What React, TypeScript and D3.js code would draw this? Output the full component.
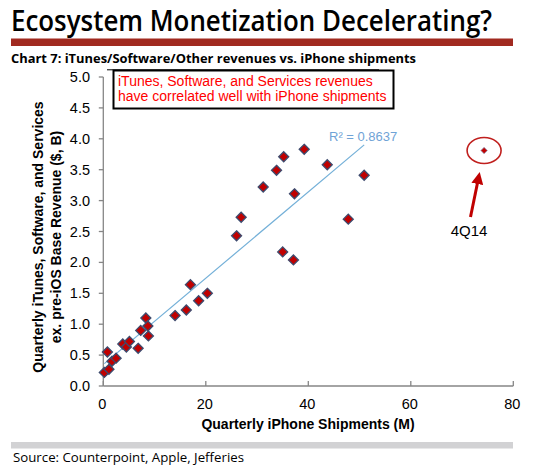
import React from "react";
import * as d3 from "d3";

const shipments = [0.2, 1.1, 0.8, 1.7, 2.5, 3.8, 4.5, 5.1, 6.8, 7.3, 8.3, 8.7, 8.8, 14.0, 16.2, 17.0, 18.6, 20.3, 26.0, 26.9, 31.2, 33.8, 35.2, 35.0, 37.1, 37.3, 39.2, 43.7, 47.8, 50.9];
const revenues = [0.22, 0.27, 0.55, 0.40, 0.45, 0.68, 0.63, 0.72, 0.61, 0.90, 1.10, 0.97, 0.81, 1.14, 1.23, 1.64, 1.38, 1.50, 2.43, 2.73, 3.22, 3.49, 3.71, 2.17, 2.04, 3.11, 3.83, 3.58, 2.70, 3.41];
const highlightShipments = [74.3];
const highlightRevenues = [3.81];
const highlightLabel = "4Q14";
const xTicks = [0, 20, 40, 60, 80];
const yTicks = [0, 0.5, 1, 1.5, 2, 2.5, 3, 3.5, 4, 4.5, 5];
const rSquaredLabel = "R² = 0.8637";

export default function App() {
  const W = 545, H = 469;
  const x = d3.scaleLinear().domain([0, 80]).range([103.3, 513.3]);
  const y = d3.scaleLinear().domain([0, 5]).range([386, 77]);

  const n = shipments.length;
  const mx = d3.mean(shipments)!;
  const my = d3.mean(revenues)!;
  let sxy = 0, sxx = 0;
  for (let i = 0; i < n; i++) {
    sxy += (shipments[i] - mx) * (revenues[i] - my);
    sxx += (shipments[i] - mx) ** 2;
  }
  const slope = sxy / sxx;
  const intercept = my - slope * mx;
  const [x0, x1] = d3.extent(shipments) as [number, number];

  const diamond = (cx: number, cy: number, r: number) =>
    `M${cx},${cy - r}L${cx + r},${cy}L${cx},${cy + r}L${cx - r},${cy}Z`;

  const axisColor = "#868686";
  const font = "Liberation Sans, Arial, sans-serif";

  const hx = x(highlightShipments[0]);
  const hy = y(highlightRevenues[0]);

  return (
    <svg width={W} height={H} style={{ position: "absolute", left: 0, top: 0, background: "#fff" }}>
      <rect x={0} y={0} width={W} height={H} fill="#fff" />
      <text x={11} y={31} fontFamily="Open Sans, sans-serif" fontWeight={600} fontSize={28} fill="#000" textLength={481} lengthAdjust="spacingAndGlyphs">
        Ecosystem Monetization Decelerating?
      </text>
      <rect x={11} y={38.5} width={502} height={7.5} fill="#a12a20" />
      <text x={11} y={63} fontFamily="Open Sans, sans-serif" fontWeight={700} fontSize={13} fill="#000" textLength={405} lengthAdjust="spacingAndGlyphs">
        Chart 7: iTunes/Software/Other revenues vs. iPhone shipments
      </text>
      <line x1={107} x2={379} y1={69.8} y2={69.8} stroke="#000" strokeWidth={1} />

      {/* axes */}
      <line x1={x(0)} x2={x(0)} y1={y(5)} y2={y(0)} stroke={axisColor} strokeWidth={1.3} />
      <line x1={x(0)} x2={x(80)} y1={y(0)} y2={y(0)} stroke={axisColor} strokeWidth={1.3} />
      {yTicks.map((t) => (
        <g key={"y" + t}>
          <line x1={x(0) - 4.5} x2={x(0)} y1={y(t)} y2={y(t)} stroke={axisColor} strokeWidth={1.3} />
          <text x={90} y={y(t) + 5} textAnchor="end" fontFamily={font} fontSize={14.5} fill="#000">
            {t.toFixed(1)}
          </text>
        </g>
      ))}
      {xTicks.map((t) => (
        <g key={"x" + t}>
          <line x1={x(t)} x2={x(t)} y1={y(0) - 5} y2={y(0)} stroke={axisColor} strokeWidth={1.3} />
          <text x={x(t) - 1} y={409} textAnchor="middle" fontFamily={font} fontSize={14.5} fill="#000">
            {t}
          </text>
        </g>
      ))}
      <text x={308} y={428.5} textAnchor="middle" fontFamily={font} fontWeight={700} fontSize={14} fill="#000">
        Quarterly iPhone Shipments (M)
      </text>
      <g transform="translate(0,237) rotate(-90)">
        <text x={0} y={43} textAnchor="middle" fontFamily={font} fontWeight={700} fontSize={14} fill="#000">
          Quarterly iTunes, Software, and Services
        </text>
        <text x={0} y={61} textAnchor="middle" fontFamily={font} fontWeight={700} fontSize={14} fill="#000">
          ex. pre-iOS Base Revenue ($, B)
        </text>
      </g>

      {/* annotation box */}
      <rect x={113.5} y={70.5} width={280} height={38} fill="#fff" stroke="#000" strokeWidth={2} />
      <text x={118} y={85.5} fontFamily={font} fontSize={14} fill="#ff0000">
        iTunes, Software, and Services revenues
      </text>
      <text x={118} y={101} fontFamily={font} fontSize={14} fill="#ff0000">
        have correlated well with iPhone shipments
      </text>

      {/* trendline */}
      <line
        x1={x(x0)}
        y1={y(intercept + slope * x0)}
        x2={x(x1)}
        y2={y(intercept + slope * x1)}
        stroke="#74b0d8"
        strokeWidth={1.2}
      />
      <text x={329} y={141} fontFamily={font} fontSize={13} fill="#6fa3d6">
        {rSquaredLabel}
      </text>

      {/* points */}
      {shipments.map((s, i) => (
        <path key={i} d={diamond(x(s), y(revenues[i]), 5)} fill="#c00000" stroke="#3d4b6e" strokeWidth={1.3} />
      ))}

      {/* highlight */}
      <ellipse cx={hx} cy={hy} rx={17} ry={13} fill="none" stroke="#c0201e" strokeWidth={1.6} />
      <path d={diamond(hx, hy, 3.2)} fill="#c00000" stroke="#8ea0bf" strokeWidth={0.8} />
      <defs>
        <marker id="ah" viewBox="0 0 10 10" refX={5} refY={5} markerWidth={4} markerHeight={4} orient="auto">
          <path d="M0,0L10,5L0,10Z" fill="#c00000" />
        </marker>
      </defs>
      <line x1={470.5} y1={217} x2={478.5} y2={178} stroke="#c00000" strokeWidth={3} markerEnd="url(#ah)" />
      <text x={469} y={236} textAnchor="middle" fontFamily={font} fontSize={15} fill="#000">
        {highlightLabel}
      </text>

      {/* footer */}
      <rect x={11} y={442} width={502} height={6.5} fill="#d2d2d4" />
      <text x={13} y={462} fontFamily="Open Sans, sans-serif" fontSize={12} fill="#000" textLength={231} lengthAdjust="spacingAndGlyphs">
        Source: Counterpoint, Apple, Jefferies
      </text>
    </svg>
  );
}
